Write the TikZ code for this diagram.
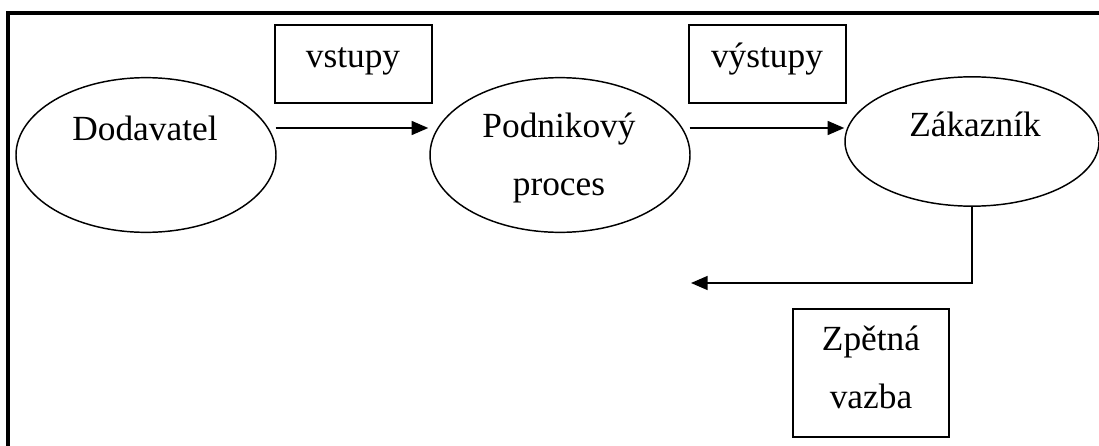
\documentclass[tikz,border=0pt]{standalone}
\usepackage{fontspec}
\setmainfont{Liberation Serif}
\usetikzlibrary{shapes.geometric,arrows.meta,calc}

\begin{document}
\begin{tikzpicture}[x=0.75pt,y=-0.75pt,
  every node/.style={font=\fontsize{26.5}{32}\selectfont},
  oval/.style={draw, ellipse, line width=1.1pt, inner sep=0pt,
               minimum width=195pt, minimum height=116pt},
  tagbox/.style={draw, rectangle, line width=1.2pt, inner sep=0pt,
                 minimum width=117.5pt, minimum height=58.5pt},
  word/.style={anchor=base, inner sep=0pt},
  flow/.style={line width=1.2pt, -{Triangle[length=12.5pt,width=10.5pt]}}]

  \useasboundingbox (0,0) rectangle (1099,446);
  \clip (0,0) rectangle (1099,446);

  % outer frame (runs off the page on the right and bottom)
  \draw[line width=2.3pt] (8,470) -- (8,13) -- (1120,13);

  % the three stages
  \node[oval] (dod) at (146,155) {};
  \node[oval] (pod) at (560,155) {};
  \node[oval, minimum width=190.5pt, minimum height=97pt] (zak) at (972,141.5) {};

  \node[word] (tdod) at (145,140) {Dodavatel};
  \node[word] (tpod1) at (559,137) {Podnikový};
  \node[word] (tpod2) at (559,195) {proces};
  \node[word] (tzak) at (975,136) {Zákazník};

  % labels of the flows
  \node[tagbox] (vin) at (353.5,64) {};
  \node[word] (tvin) at (353,67) {vstupy};
  \node[tagbox] (vout) at (767.5,64) {};
  \node[word] (tvout) at (767,67) {výstupy};
  \node[tagbox, minimum width=117pt, minimum height=96pt] (fbox) at (871,373) {};
  \node[word] (tfb1) at (871,350) {Zpětná};
  \node[word] (tfb2) at (871,408) {vazba};

  % connectors
  \draw[flow] ($(dod.east)+(-1,-27)$) -- ($(pod.west)+(-1,-27)$);
  \draw[flow] ($(pod.east)+(-1,-27)$) -- ($(zak.west)+(0,-13.5)$);
  \coordinate (fbend) at (691,283);
  \draw[flow] (zak.south) |- (fbend);
\end{tikzpicture}
\end{document}
